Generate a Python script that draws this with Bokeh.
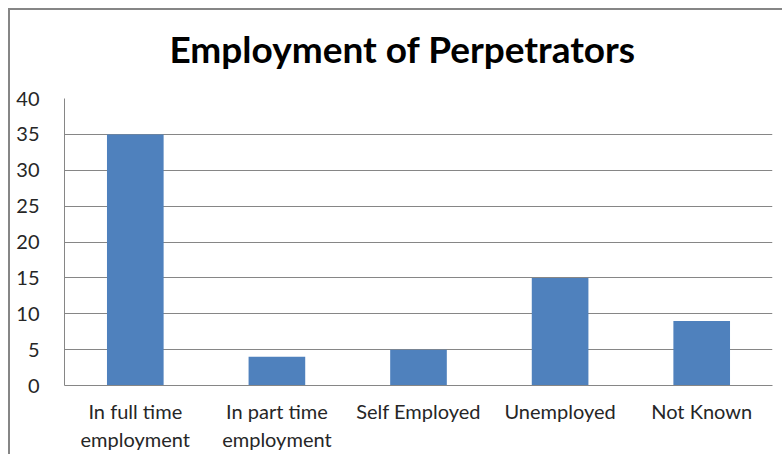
from bokeh.plotting import figure
from bokeh.models import FactorRange, Range1d, FixedTicker, Title
from bokeh.embed import file_html
from bokeh.resources import INLINE

title_text = "Employment of Perpetrators"
categories = ["In full time\nemployment", "In part time\nemployment", "Self Employed", "Unemployed", "Not Known"]
values = [35, 4, 5, 15, 9]
y_ticks = [0, 5, 10, 15, 20, 25, 30, 35, 40]

p = figure(
    x_range=FactorRange(factors=categories, range_padding=0),
    y_range=Range1d(0, 40),
    frame_width=708, frame_height=287,
    min_border_left=54, min_border_top=88, min_border_right=10, min_border_bottom=62,
    output_backend="svg", toolbar_location=None,
)
p.styles = {"border-top": "2px solid #868686", "border-left": "2px solid #868686",
            "margin-left": "8px", "margin-top": "8px"}

p.vbar(x=categories, top=values, width=0.4, fill_color="#4F81BD", line_color=None)

spacer = Title(text=" ", text_font_size="1px", standoff=25)
p.add_layout(spacer, "above")
title = Title(text=title_text, align="left", offset=105, standoff=0,
              text_font="Lato", text_font_size="37px", text_font_style="bold",
              text_color="#000000")
p.add_layout(title, "above")

p.outline_line_color = None
p.xgrid.grid_line_color = None
p.ygrid.grid_line_color = "#868686"
p.ygrid.grid_line_width = 1

p.yaxis.ticker = FixedTicker(ticks=y_ticks)
for ax in (p.xaxis, p.yaxis):
    ax.axis_line_color = "#868686"
    ax.major_tick_line_color = None
    ax.minor_tick_line_color = None
    ax.major_label_text_font = "Lato"
    ax.major_label_text_font_size = "20px"
    ax.major_label_text_color = "#262626"
p.yaxis.major_label_standoff = 19
p.xaxis.major_label_standoff = 7
p.xaxis.major_label_orientation = "horizontal"

open("out.html", "w").write(file_html(p, INLINE))
